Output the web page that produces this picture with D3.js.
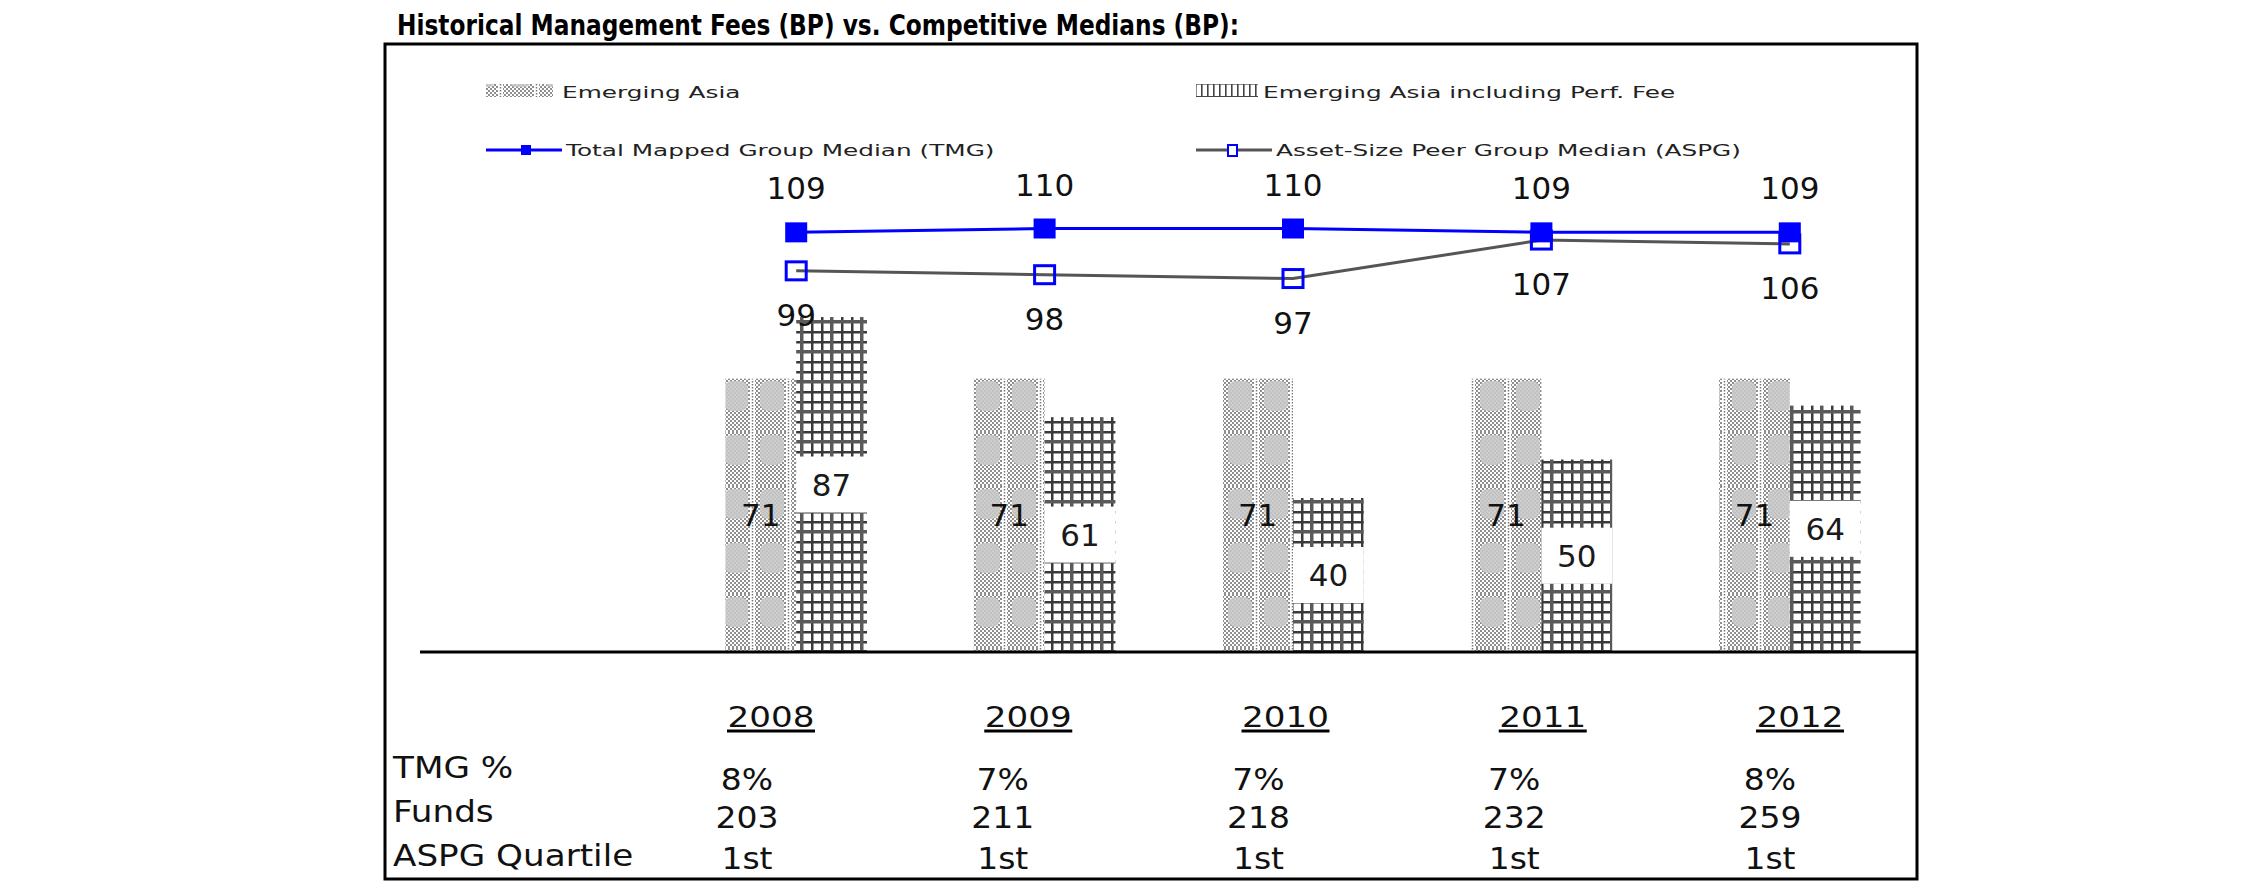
<!DOCTYPE html>
<html><head><meta charset="utf-8">
<script src="https://cdn.jsdelivr.net/npm/d3@7"></script>
<style>html,body{margin:0;padding:0;background:#fff;} svg{display:block;}</style>
</head><body><svg id="chart" width="2250" height="895"></svg>
<script>
// ---------- data ----------
const title = "Historical Management Fees (BP) vs. Competitive Medians (BP):";
const years = ["2008", "2009", "2010", "2011", "2012"];
const emergingAsia = [71, 71, 71, 71, 71];
const emergingAsiaPerf = [87, 61, 40, 50, 64];
const tmgMedian = [109, 110, 110, 109, 109];
const aspgMedian = [99, 98, 97, 107, 106];
const legendLabels = ["Emerging Asia", "Emerging Asia including Perf. Fee",
  "Total Mapped Group Median (TMG)", "Asset-Size Peer Group Median (ASPG)"];
const rowLabels = ["TMG %", "Funds", "ASPG Quartile"];
const tmgPct = ["8%", "7%", "7%", "7%", "8%"];
const funds = ["203", "211", "218", "232", "259"];
const aspgQuartile = ["1st", "1st", "1st", "1st", "1st"];

// ---------- setup ----------
const svg = d3.select("#chart");
const FONT = "'DejaVu Sans', Verdana, sans-serif";
function stretch(sel, f) {
  sel.each(function () {
    const w = this.getComputedTextLength();
    this.setAttribute("textLength", w * f);
    this.setAttribute("lengthAdjust", "spacingAndGlyphs");
  });
}

const x = d3.scaleBand().domain(years).range([672, 1914]).paddingInner(0.43).paddingOuter(0.215);
const x1 = d3.scaleBand().domain(["ea", "perf"]).range([0, x.bandwidth()]);
const xc = d => x(d) + x.bandwidth() / 2;
const y = d3.scaleLinear().domain([0, 120]).range([652, 190]);
const colYear = d3.scalePoint().domain(years).range([771, 1800]);
const colVal = d3.scalePoint().domain(years).range([747, 1770]);

// ---------- patterns ----------
const defs = svg.append("defs");
const dots = defs.append("pattern").attr("id", "dots").attr("width", 4).attr("height", 4).attr("patternUnits", "userSpaceOnUse");
dots.append("rect").attr("width", 4).attr("height", 4).attr("fill", "#fff");
dots.append("rect").attr("width", 2).attr("height", 2).attr("fill", "#8e8e8e");
dots.append("rect").attr("x", 2).attr("y", 2).attr("width", 2).attr("height", 2).attr("fill", "#8e8e8e");

const pEA = defs.append("pattern").attr("id", "pEA").attr("width", 36).attr("height", 54).attr("patternUnits", "userSpaceOnUse");
pEA.append("rect").attr("width", 36).attr("height", 54).attr("fill", "url(#dots)");
pEA.append("rect").attr("x", 4).attr("y", 3).attr("width", 24).attr("height", 30).attr("rx", 8).attr("fill", "#c8c8c8").attr("opacity", 0.9);
pEA.append("rect").attr("x", 30).attr("width", 5).attr("height", 54).attr("fill", "#fff");
pEA.append("line").attr("x1", 32.5).attr("x2", 32.5).attr("y1", 0).attr("y2", 54).attr("stroke", "#777").attr("stroke-width", 1.5).attr("stroke-dasharray", "1.5,1.5");

const pGrid = defs.append("pattern").attr("id", "pGrid").attr("width", 30).attr("height", 30).attr("patternUnits", "userSpaceOnUse");
pGrid.append("rect").attr("width", 30).attr("height", 30).attr("fill", "#fff");
[[1, 2.5, "#3a3a3a"], [11, 2.5, "#3a3a3a"], [20, 3.5, "#5a5a5a"]].forEach(([p, w, c]) => {
  pGrid.append("rect").attr("x", p).attr("y", 0).attr("width", w).attr("height", 30).attr("fill", c);
  pGrid.append("rect").attr("x", 0).attr("y", p).attr("width", 30).attr("height", w).attr("fill", c);
});

const pLeg = defs.append("pattern").attr("id", "pLeg").attr("width", 6).attr("height", 13).attr("patternUnits", "userSpaceOnUse");
pLeg.append("rect").attr("width", 6).attr("height", 13).attr("fill", "#fff");
pLeg.append("rect").attr("x", 1).attr("width", 1.6).attr("height", 13).attr("fill", "#444");
pLeg.append("rect").attr("y", 5).attr("width", 6).attr("height", 1.6).attr("fill", "#444");

// ---------- title & frame ----------
svg.append("text").attr("x", 397).attr("y", 35).attr("font-family", FONT).attr("font-weight", "bold")
  .attr("font-size", 28).attr("fill", "#000").text(title)
  .each(function () {
    this.setAttribute("textLength", 842);
    this.setAttribute("lengthAdjust", "spacingAndGlyphs");
  });
svg.append("rect").attr("x", 385).attr("y", 44).attr("width", 1532).attr("height", 835)
  .attr("fill", "none").attr("stroke", "#000").attr("stroke-width", 3);

// ---------- legend ----------
const leg = svg.append("g");
leg.append("rect").attr("x", 486).attr("y", 84).attr("width", 67).attr("height", 13).attr("fill", "url(#pEA)");
leg.append("rect").attr("x", 1196).attr("y", 84).attr("width", 62).attr("height", 13).attr("fill", "url(#pLeg)");
leg.append("line").attr("x1", 486).attr("x2", 562).attr("y1", 150).attr("y2", 150).attr("stroke", "#0000ff").attr("stroke-width", 3);
leg.append("rect").attr("x", 521).attr("y", 145).attr("width", 10).attr("height", 10).attr("fill", "#0000ff");
leg.append("line").attr("x1", 1196).attr("x2", 1272).attr("y1", 150).attr("y2", 150).attr("stroke", "#555").attr("stroke-width", 3);
leg.append("rect").attr("x", 1228).attr("y", 145).attr("width", 9).attr("height", 11).attr("fill", "#fff").attr("stroke", "#0000ff").attr("stroke-width", 2);
const legPos = [[562, 98], [1263, 98], [566, 156], [1276, 156]];
leg.selectAll("text.leg").data(legendLabels).join("text").attr("class", "leg")
  .attr("x", (d, i) => legPos[i][0]).attr("y", (d, i) => legPos[i][1])
  .attr("font-family", FONT).attr("font-size", 16.5).attr("fill", "#222").text(d => d)
  .call(stretch, 1.5);

// ---------- bars ----------
const bars = svg.append("g");
bars.selectAll("rect.ea").data(emergingAsia).join("rect").attr("class", "ea")
  .attr("x", (d, i) => x(years[i]) + x1("ea")).attr("width", x1.bandwidth())
  .attr("y", d => y(d)).attr("height", d => y(0) - y(d)).attr("fill", "url(#pEA)");
bars.selectAll("rect.perf").data(emergingAsiaPerf).join("rect").attr("class", "perf")
  .attr("x", (d, i) => x(years[i]) + x1("perf")).attr("width", x1.bandwidth())
  .attr("y", d => y(d)).attr("height", d => y(0) - y(d)).attr("fill", "url(#pGrid)");

// bar labels
bars.selectAll("text.eal").data(emergingAsia).join("text").attr("class", "eal")
  .attr("x", (d, i) => x(years[i]) + x1("ea") + x1.bandwidth() / 2)
  .attr("y", d => (y(d) + y(0)) / 2 + 11).attr("text-anchor", "middle")
  .attr("font-family", FONT).attr("font-size", 31).attr("fill", "#111").text(d => d);
bars.selectAll("rect.pbox").data(emergingAsiaPerf).join("rect").attr("class", "pbox")
  .attr("x", (d, i) => x(years[i]) + x1("perf")).attr("width", x1.bandwidth())
  .attr("y", d => (y(d) + y(0)) / 2 - 28).attr("height", 56).attr("fill", "#fff");
bars.selectAll("text.pl").data(emergingAsiaPerf).join("text").attr("class", "pl")
  .attr("x", (d, i) => x(years[i]) + x1("perf") + x1.bandwidth() / 2)
  .attr("y", d => (y(d) + y(0)) / 2 + 11).attr("text-anchor", "middle")
  .attr("font-family", FONT).attr("font-size", 31).attr("fill", "#1a1a1a").text(d => d);

// baseline
svg.append("line").attr("x1", 420).attr("x2", 1917).attr("y1", y(0)).attr("y2", y(0))
  .attr("stroke", "#000").attr("stroke-width", 3);

// ---------- lines ----------
const line = d3.line().x((d, i) => xc(years[i])).y(d => y(d));
svg.append("path").datum(aspgMedian).attr("d", line).attr("fill", "none").attr("stroke", "#555").attr("stroke-width", 3);
svg.selectAll("rect.am").data(aspgMedian).join("rect").attr("class", "am")
  .attr("x", (d, i) => xc(years[i]) - 10).attr("y", d => y(d) - 9).attr("width", 20).attr("height", 18)
  .attr("fill", "none").attr("stroke", "#0000ff").attr("stroke-width", 3);
svg.append("path").datum(tmgMedian).attr("d", line).attr("fill", "none").attr("stroke", "#0000ff").attr("stroke-width", 3);
svg.selectAll("rect.tm").data(tmgMedian).join("rect").attr("class", "tm")
  .attr("x", (d, i) => xc(years[i]) - 11).attr("y", d => y(d) - 10).attr("width", 22).attr("height", 20)
  .attr("fill", "#0000ff");

svg.selectAll("text.tl").data(tmgMedian).join("text").attr("class", "tl")
  .attr("x", (d, i) => xc(years[i])).attr("y", d => y(d) - 33).attr("text-anchor", "middle")
  .attr("font-family", FONT).attr("font-size", 31).attr("fill", "#111").text(d => d);
svg.selectAll("text.al").data(aspgMedian).join("text").attr("class", "al")
  .attr("x", (d, i) => xc(years[i])).attr("y", d => y(d) + 55).attr("text-anchor", "middle")
  .attr("font-family", FONT).attr("font-size", 31).attr("fill", "#111").text(d => d);

// ---------- table ----------
const tbl = svg.append("g").attr("font-family", FONT).attr("fill", "#111");
tbl.selectAll("text.yr").data(years).join("text").attr("class", "yr")
  .attr("x", d => colYear(d)).attr("y", 727).attr("text-anchor", "middle")
  .attr("font-size", 28).text(d => d).call(stretch, 1.22);
tbl.selectAll("line.ul").data(years).join("line").attr("class", "ul")
  .attr("x1", d => colYear(d) - 44).attr("x2", d => colYear(d) + 44)
  .attr("y1", 731).attr("y2", 731).attr("stroke", "#000").attr("stroke-width", 3);
const labelY = [778, 822, 866];
const valueY = [790, 828, 869];
tbl.selectAll("text.rl").data(rowLabels).join("text").attr("class", "rl")
  .attr("x", 393).attr("y", (d, i) => labelY[i]).attr("font-size", 30).text(d => d)
  .call(stretch, 1.14);
[tmgPct, funds, aspgQuartile].forEach((row, r) => {
  tbl.selectAll("text.v" + r).data(row).join("text").attr("class", "v" + r)
    .attr("x", (d, i) => colVal(years[i])).attr("y", valueY[r]).attr("text-anchor", "middle")
    .attr("font-size", 30).text(d => d).call(stretch, 1.1);
});
</script>
</body></html>
